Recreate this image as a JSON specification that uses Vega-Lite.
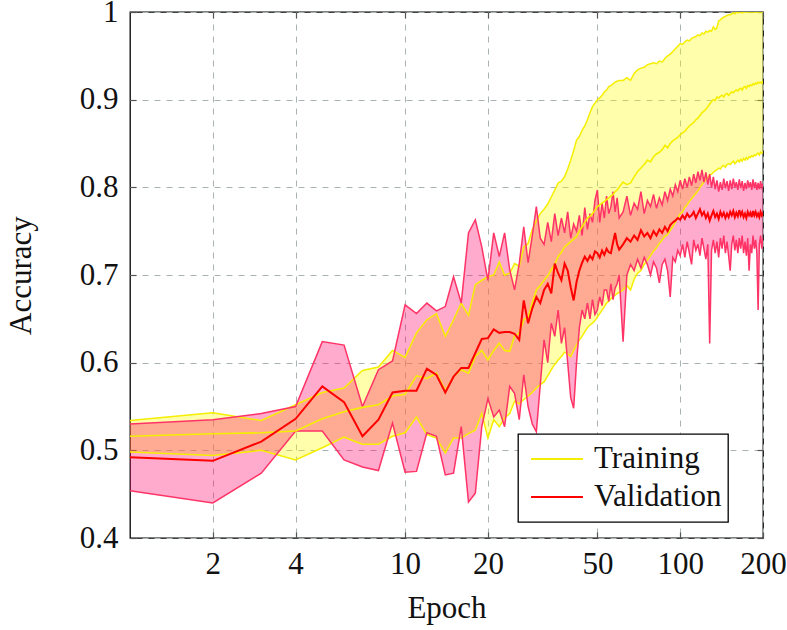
{
  "$schema": "https://vega.github.io/schema/vega-lite/v6.json",
  "width": 633,
  "height": 526,
  "autosize": {"type": "none"},
  "padding": {"left": 130, "top": 12, "right": 24, "bottom": 92},
  "background": "#ffffff",
  "data": {
    "values": [
      {"e":1,"tu":0.534,"tm":0.516,"tl":0.498,"vu":0.530,"vm":0.492,"vl":0.454},
      {"e":2,"tu":0.543,"tm":0.519,"tl":0.494,"vu":0.535,"vm":0.488,"vl":0.440},
      {"e":3,"tu":0.534,"tm":0.520,"tl":0.500,"vu":0.542,"vm":0.510,"vl":0.474},
      {"e":4,"tu":0.552,"tm":0.522,"tl":0.489,"vu":0.550,"vm":0.536,"vl":0.522},
      {"e":5,"tu":0.566,"tm":0.536,"tl":0.503,"vu":0.624,"vm":0.573,"vl":0.522},
      {"e":6,"tu":0.571,"tm":0.544,"tl":0.515,"vu":0.620,"vm":0.555,"vl":0.489},
      {"e":7,"tu":0.591,"tm":0.549,"tl":0.507,"vu":0.550,"vm":0.516,"vl":0.481},
      {"e":8,"tu":0.595,"tm":0.552,"tl":0.507,"vu":0.592,"vm":0.535,"vl":0.477},
      {"e":9,"tu":0.614,"tm":0.562,"tl":0.516,"vu":0.602,"vm":0.566,"vl":0.531},
      {"e":10,"tu":0.606,"tm":0.564,"tl":0.520,"vu":0.666,"vm":0.568,"vl":0.475},
      {"e":11,"tu":0.634,"tm":0.585,"tl":0.538,"vu":0.656,"vm":0.568,"vl":0.476},
      {"e":12,"tu":0.649,"tm":0.582,"tl":0.518,"vu":0.668,"vm":0.593,"vl":0.520},
      {"e":13,"tu":0.656,"tm":0.588,"tl":0.514,"vu":0.659,"vm":0.586,"vl":0.516},
      {"e":14,"tu":0.630,"tm":0.568,"tl":0.497,"vu":0.664,"vm":0.566,"vl":0.472},
      {"e":15,"tu":0.649,"tm":0.584,"tl":0.514,"vu":0.698,"vm":0.584,"vl":0.474},
      {"e":16,"tu":0.668,"tm":0.592,"tl":0.514,"vu":0.668,"vm":0.594,"vl":0.527},
      {"e":17,"tu":0.654,"tm":0.588,"tl":0.519,"vu":0.748,"vm":0.594,"vl":0.441},
      {"e":18,"tu":0.689,"tm":0.607,"tl":0.523,"vu":0.763,"vm":0.611,"vl":0.451},
      {"e":19,"tu":0.694,"tm":0.614,"tl":0.542,"vu":0.732,"vm":0.627,"vl":0.527},
      {"e":20,"tu":0.698,"tm":0.603,"tl":0.514,"vu":0.694,"vm":0.628,"vl":0.559},
      {"e":21,"tu":0.700,"tm":0.614,"tl":0.535,"vu":0.748,"vm":0.638,"vl":0.538},
      {"e":22,"tu":0.715,"tm":0.622,"tl":0.527,"vu":0.721,"vm":0.634,"vl":0.546},
      {"e":23,"tu":0.700,"tm":0.614,"tl":0.537,"vu":0.748,"vm":0.635,"vl":0.527},
      {"e":24,"tu":0.702,"tm":0.613,"tl":0.542,"vu":0.706,"vm":0.635,"vl":0.573},
      {"e":25,"tu":0.713,"tm":0.630,"tl":0.556,"vu":0.683,"vm":0.633,"vl":0.565},
      {"e":26,"tu":0.710,"tm":0.634,"tl":0.553,"vu":0.713,"vm":0.626,"vl":0.535},
      {"e":27,"tu":0.732,"tm":0.649,"tl":0.558,"vu":0.755,"vm":0.671,"vl":0.586},
      {"e":28,"tu":0.736,"tm":0.652,"tl":0.562,"vu":0.714,"vm":0.645,"vl":0.550},
      {"e":29,"tu":0.752,"tm":0.668,"tl":0.566,"vu":0.745,"vm":0.662,"vl":0.530},
      {"e":30,"tu":0.762,"tm":0.683,"tl":0.571,"vu":0.778,"vm":0.675,"vl":0.521},
      {"e":31,"tu":0.770,"tm":0.688,"tl":0.575,"vu":0.742,"vm":0.668,"vl":0.575},
      {"e":32,"tu":0.775,"tm":0.694,"tl":0.578,"vu":0.735,"vm":0.683,"vl":0.626},
      {"e":33,"tu":0.781,"tm":0.699,"tl":0.585,"vu":0.760,"vm":0.690,"vl":0.600},
      {"e":34,"tu":0.789,"tm":0.706,"tl":0.592,"vu":0.738,"vm":0.679,"vl":0.645},
      {"e":35,"tu":0.797,"tm":0.712,"tl":0.598,"vu":0.770,"vm":0.713,"vl":0.630},
      {"e":36,"tu":0.805,"tm":0.721,"tl":0.603,"vu":0.745,"vm":0.702,"vl":0.660},
      {"e":37,"tu":0.807,"tm":0.726,"tl":0.607,"vu":0.765,"vm":0.694,"vl":0.622},
      {"e":38,"tu":0.812,"tm":0.732,"tl":0.612,"vu":0.748,"vm":0.713,"vl":0.640},
      {"e":39,"tu":0.821,"tm":0.735,"tl":0.610,"vu":0.772,"vm":0.705,"vl":0.600},
      {"e":40,"tu":0.831,"tm":0.738,"tl":0.607,"vu":0.742,"vm":0.686,"vl":0.560},
      {"e":41,"tu":0.842,"tm":0.741,"tl":0.614,"vu":0.758,"vm":0.671,"vl":0.548},
      {"e":42,"tu":0.854,"tm":0.744,"tl":0.620,"vu":0.750,"vm":0.692,"vl":0.600},
      {"e":43,"tu":0.858,"tm":0.750,"tl":0.626,"vu":0.768,"vm":0.705,"vl":0.640},
      {"e":44,"tu":0.865,"tm":0.755,"tl":0.630,"vu":0.745,"vm":0.714,"vl":0.660},
      {"e":45,"tu":0.870,"tm":0.760,"tl":0.635,"vu":0.777,"vm":0.721,"vl":0.650},
      {"e":46,"tu":0.877,"tm":0.765,"tl":0.640,"vu":0.752,"vm":0.716,"vl":0.668},
      {"e":47,"tu":0.885,"tm":0.767,"tl":0.643,"vu":0.770,"vm":0.722,"vl":0.650},
      {"e":48,"tu":0.892,"tm":0.770,"tl":0.645,"vu":0.760,"vm":0.718,"vl":0.672},
      {"e":49,"tu":0.896,"tm":0.774,"tl":0.648,"vu":0.785,"vm":0.727,"vl":0.655},
      {"e":50,"tu":0.900,"tm":0.778,"tl":0.652,"vu":0.797,"vm":0.725,"vl":0.660},
      {"e":51,"tu":0.902,"tm":0.780,"tl":0.656,"vu":0.760,"vm":0.720,"vl":0.675},
      {"e":52,"tu":0.905,"tm":0.782,"tl":0.660,"vu":0.782,"vm":0.728,"vl":0.665},
      {"e":53,"tu":0.909,"tm":0.784,"tl":0.664,"vu":0.765,"vm":0.723,"vl":0.683},
      {"e":54,"tu":0.911,"tm":0.786,"tl":0.668,"vu":0.790,"vm":0.730,"vl":0.683},
      {"e":55,"tu":0.915,"tm":0.788,"tl":0.670,"vu":0.770,"vm":0.726,"vl":0.670},
      {"e":56,"tu":0.916,"tm":0.790,"tl":0.673,"vu":0.778,"vm":0.725,"vl":0.690},
      {"e":57,"tu":0.918,"tm":0.792,"tl":0.675,"vu":0.795,"vm":0.737,"vl":0.672},
      {"e":58,"tu":0.920,"tm":0.795,"tl":0.677,"vu":0.772,"vm":0.748,"vl":0.685},
      {"e":59,"tu":0.921,"tm":0.797,"tl":0.679,"vu":0.788,"vm":0.735,"vl":0.690},
      {"e":60,"tu":0.922,"tm":0.800,"tl":0.680,"vu":0.765,"vm":0.729,"vl":0.700},
      {"e":62,"tu":0.922,"tm":0.806,"tl":0.683,"vu":0.772,"vm":0.735,"vl":0.624},
      {"e":64,"tu":0.925,"tm":0.803,"tl":0.688,"vu":0.790,"vm":0.742,"vl":0.700},
      {"e":66,"tu":0.922,"tm":0.805,"tl":0.683,"vu":0.768,"vm":0.738,"vl":0.712},
      {"e":68,"tu":0.930,"tm":0.812,"tl":0.695,"vu":0.782,"vm":0.745,"vl":0.705},
      {"e":70,"tu":0.934,"tm":0.818,"tl":0.702,"vu":0.775,"vm":0.740,"vl":0.718},
      {"e":72,"tu":0.936,"tm":0.822,"tl":0.705,"vu":0.795,"vm":0.751,"vl":0.708},
      {"e":74,"tu":0.937,"tm":0.826,"tl":0.712,"vu":0.770,"vm":0.744,"vl":0.720},
      {"e":76,"tu":0.940,"tm":0.831,"tl":0.717,"vu":0.785,"vm":0.748,"vl":0.712},
      {"e":78,"tu":0.941,"tm":0.829,"tl":0.722,"vu":0.778,"vm":0.742,"vl":0.700},
      {"e":80,"tu":0.942,"tm":0.835,"tl":0.727,"vu":0.792,"vm":0.750,"vl":0.715},
      {"e":82,"tu":0.941,"tm":0.838,"tl":0.731,"vu":0.776,"vm":0.745,"vl":0.708},
      {"e":84,"tu":0.944,"tm":0.840,"tl":0.736,"vu":0.788,"vm":0.752,"vl":0.691},
      {"e":86,"tu":0.943,"tm":0.843,"tl":0.740,"vu":0.780,"vm":0.748,"vl":0.712},
      {"e":88,"tu":0.947,"tm":0.848,"tl":0.744,"vu":0.795,"vm":0.755,"vl":0.718},
      {"e":90,"tu":0.950,"tm":0.845,"tl":0.746,"vu":0.785,"vm":0.750,"vl":0.705},
      {"e":92,"tu":0.952,"tm":0.850,"tl":0.751,"vu":0.798,"vm":0.757,"vl":0.675},
      {"e":94,"tu":0.955,"tm":0.853,"tl":0.755,"vu":0.790,"vm":0.760,"vl":0.720},
      {"e":96,"tu":0.958,"tm":0.855,"tl":0.760,"vu":0.803,"vm":0.762,"vl":0.715},
      {"e":98,"tu":0.961,"tm":0.857,"tl":0.765,"vu":0.795,"vm":0.765,"vl":0.728},
      {"e":100,"tu":0.964,"tm":0.860,"tl":0.770,"vu":0.808,"vm":0.763,"vl":0.722},
      {"e":102,"tu":0.963,"tm":0.862,"tl":0.772,"vu":0.798,"vm":0.768,"vl":0.735},
      {"e":104,"tu":0.966,"tm":0.864,"tl":0.777,"vu":0.810,"vm":0.764,"vl":0.720},
      {"e":106,"tu":0.968,"tm":0.867,"tl":0.780,"vu":0.800,"vm":0.770,"vl":0.738},
      {"e":108,"tu":0.967,"tm":0.870,"tl":0.784,"vu":0.812,"vm":0.766,"vl":0.725},
      {"e":110,"tu":0.970,"tm":0.872,"tl":0.787,"vu":0.802,"vm":0.768,"vl":0.712},
      {"e":112,"tu":0.971,"tm":0.874,"tl":0.790,"vu":0.815,"vm":0.772,"vl":0.740},
      {"e":114,"tu":0.972,"tm":0.877,"tl":0.793,"vu":0.805,"vm":0.765,"vl":0.728},
      {"e":116,"tu":0.974,"tm":0.879,"tl":0.796,"vu":0.818,"vm":0.770,"vl":0.735},
      {"e":118,"tu":0.973,"tm":0.882,"tl":0.800,"vu":0.808,"vm":0.775,"vl":0.722},
      {"e":120,"tu":0.976,"tm":0.885,"tl":0.803,"vu":0.820,"vm":0.768,"vl":0.742},
      {"e":122,"tu":0.975,"tm":0.887,"tl":0.806,"vu":0.806,"vm":0.772,"vl":0.730},
      {"e":124,"tu":0.978,"tm":0.889,"tl":0.809,"vu":0.817,"vm":0.765,"vl":0.718},
      {"e":126,"tu":0.977,"tm":0.892,"tl":0.811,"vu":0.803,"vm":0.770,"vl":0.735},
      {"e":128,"tu":0.979,"tm":0.895,"tl":0.814,"vu":0.815,"vm":0.762,"vl":0.622},
      {"e":130,"tu":0.978,"tm":0.898,"tl":0.815,"vu":0.800,"vm":0.768,"vl":0.728},
      {"e":132,"tu":0.983,"tm":0.900,"tl":0.817,"vu":0.812,"vm":0.773,"vl":0.740},
      {"e":134,"tu":0.980,"tm":0.899,"tl":0.819,"vu":0.798,"vm":0.766,"vl":0.725},
      {"e":136,"tu":0.982,"tm":0.903,"tl":0.820,"vu":0.808,"vm":0.770,"vl":0.738},
      {"e":138,"tu":0.990,"tm":0.902,"tl":0.822,"vu":0.795,"vm":0.764,"vl":0.720},
      {"e":140,"tu":0.991,"tm":0.904,"tl":0.821,"vu":0.806,"vm":0.772,"vl":0.742},
      {"e":142,"tu":0.993,"tm":0.905,"tl":0.824,"vu":0.797,"vm":0.767,"vl":0.730},
      {"e":144,"tu":0.994,"tm":0.903,"tl":0.825,"vu":0.810,"vm":0.771,"vl":0.745},
      {"e":146,"tu":0.995,"tm":0.906,"tl":0.823,"vu":0.799,"vm":0.765,"vl":0.725},
      {"e":148,"tu":0.996,"tm":0.907,"tl":0.826,"vu":0.807,"vm":0.770,"vl":0.738},
      {"e":150,"tu":0.997,"tm":0.905,"tl":0.827,"vu":0.796,"vm":0.766,"vl":0.722},
      {"e":152,"tu":0.997,"tm":0.907,"tl":0.826,"vu":0.808,"vm":0.772,"vl":0.705},
      {"e":154,"tu":0.998,"tm":0.909,"tl":0.828,"vu":0.798,"vm":0.768,"vl":0.735},
      {"e":156,"tu":0.999,"tm":0.908,"tl":0.830,"vu":0.810,"vm":0.773,"vl":0.745},
      {"e":158,"tu":0.998,"tm":0.910,"tl":0.827,"vu":0.800,"vm":0.766,"vl":0.728},
      {"e":160,"tu":1.0,"tm":0.911,"tl":0.829,"vu":0.806,"vm":0.771,"vl":0.740},
      {"e":162,"tu":0.999,"tm":0.910,"tl":0.831,"vu":0.797,"vm":0.767,"vl":0.725},
      {"e":164,"tu":1.0,"tm":0.912,"tl":0.829,"vu":0.809,"vm":0.774,"vl":0.742},
      {"e":166,"tu":1.0,"tm":0.913,"tl":0.832,"vu":0.799,"vm":0.768,"vl":0.730},
      {"e":168,"tu":0.999,"tm":0.911,"tl":0.830,"vu":0.807,"vm":0.772,"vl":0.745},
      {"e":170,"tu":1.0,"tm":0.914,"tl":0.833,"vu":0.796,"vm":0.766,"vl":0.725},
      {"e":172,"tu":1.0,"tm":0.915,"tl":0.831,"vu":0.805,"vm":0.770,"vl":0.738},
      {"e":174,"tu":1.0,"tm":0.913,"tl":0.834,"vu":0.798,"vm":0.765,"vl":0.722},
      {"e":176,"tu":1.0,"tm":0.916,"tl":0.832,"vu":0.808,"vm":0.772,"vl":0.742},
      {"e":178,"tu":1.0,"tm":0.915,"tl":0.835,"vu":0.800,"vm":0.768,"vl":0.705},
      {"e":180,"tu":1.0,"tm":0.917,"tl":0.834,"vu":0.806,"vm":0.771,"vl":0.735},
      {"e":182,"tu":1.0,"tm":0.916,"tl":0.836,"vu":0.797,"vm":0.766,"vl":0.725},
      {"e":184,"tu":1.0,"tm":0.918,"tl":0.835,"vu":0.809,"vm":0.773,"vl":0.745},
      {"e":186,"tu":1.0,"tm":0.917,"tl":0.837,"vu":0.799,"vm":0.768,"vl":0.730},
      {"e":188,"tu":1.0,"tm":0.919,"tl":0.836,"vu":0.806,"vm":0.772,"vl":0.740},
      {"e":190,"tu":1.0,"tm":0.918,"tl":0.838,"vu":0.797,"vm":0.767,"vl":0.725},
      {"e":192,"tu":1.0,"tm":0.920,"tl":0.839,"vu":0.805,"vm":0.770,"vl":0.660},
      {"e":194,"tu":1.0,"tm":0.919,"tl":0.837,"vu":0.798,"vm":0.766,"vl":0.735},
      {"e":196,"tu":1.0,"tm":0.920,"tl":0.840,"vu":0.807,"vm":0.772,"vl":0.745},
      {"e":198,"tu":1.0,"tm":0.919,"tl":0.839,"vu":0.800,"vm":0.768,"vl":0.730},
      {"e":200,"tu":1.0,"tm":0.921,"tl":0.841,"vu":0.804,"vm":0.771,"vl":0.742}
    ]
  },
  "encoding": {
    "x": {"field": "e", "type": "quantitative", "scale": {"type": "log", "domain": [1, 200], "nice": false}}
  },
  "layer": [
    {
      "mark": {"type": "area", "color": "#ffff00", "fillOpacity": 0.33, "clip": true},
      "encoding": {
        "x": {"field": "e", "type": "quantitative", "axis": {"orient": "bottom", "values": [2, 4, 10, 20, 50, 100, 200], "format": "d", "grid": true, "labelFlush": false, "labelOverlap": false, "labelPadding": 17, "title": "Epoch", "titlePadding": 14}},
        "y": {"field": "tl", "type": "quantitative", "scale": {"domain": [0.4, 1], "nice": false, "zero": false}, "axis": {"orient": "left", "values": [0.4, 0.5, 0.6, 0.7, 0.8, 0.9, 1], "labelExpr": "datum.value == 1 ? '1' : format(datum.value, '.1f')", "grid": true, "labelFlush": false, "labelOverlap": false, "labelPadding": 18, "title": "Accuracy", "titlePadding": 42}},
        "y2": {"field": "tu"}
      }
    },
    {
      "mark": {"type": "area", "color": "#ff0066", "fillOpacity": 0.33, "clip": true},
      "encoding": {
        "x": {"field": "e", "type": "quantitative", "axis": null},
        "y": {"field": "vl", "type": "quantitative", "axis": null},
        "y2": {"field": "vu"}
      }
    },
    {
      "mark": {"type": "line", "color": "#f6ee00", "strokeWidth": 1.5, "clip": true},
      "encoding": {
        "x": {"field": "e", "type": "quantitative", "axis": {"orient": "top", "values": [2, 4, 10, 20, 50, 100, 200], "labels": false, "grid": false, "title": null}},
        "y": {"field": "tu", "type": "quantitative", "axis": {"orient": "right", "values": [0.4, 0.5, 0.6, 0.7, 0.8, 0.9, 1], "labels": false, "grid": false, "title": null}}
      }
    },
    {
      "mark": {"type": "line", "color": "#f6ee00", "strokeWidth": 1.5, "clip": true},
      "encoding": {
        "x": {"field": "e", "type": "quantitative", "axis": null},
        "y": {"field": "tl", "type": "quantitative", "axis": null}
      }
    },
    {
      "mark": {"type": "line", "color": "#ff3366", "strokeWidth": 1.5, "clip": true},
      "encoding": {
        "x": {"field": "e", "type": "quantitative", "axis": null},
        "y": {"field": "vu", "type": "quantitative", "axis": null}
      }
    },
    {
      "mark": {"type": "line", "color": "#ff3366", "strokeWidth": 1.5, "clip": true},
      "encoding": {
        "x": {"field": "e", "type": "quantitative", "axis": null},
        "y": {"field": "vl", "type": "quantitative", "axis": null}
      }
    },
    {
      "mark": {"type": "line", "strokeWidth": 1.6, "clip": true},
      "encoding": {
        "x": {"field": "e", "type": "quantitative", "axis": null},
        "y": {"field": "tm", "type": "quantitative", "axis": null},
        "color": {
          "datum": "Training",
          "type": "nominal",
          "scale": {"domain": ["Training", "Validation"], "range": ["#f6ee00", "#ff0000"]},
          "legend": {
            "orient": "none", "legendX": 388, "legendY": 422, "title": null,
            "symbolType": "stroke", "symbolSize": 2700, "symbolStrokeWidth": 2,
            "labelFont": "Liberation Serif", "labelFontSize": 31, "labelColor": "#111111",
            "padding": 6, "strokeColor": "#000000", "fillColor": "#ffffff",
            "clipHeight": 38, "labelOffset": 10, "rowPadding": 0, "symbolOffset": 6
          }
        }
      }
    },
    {
      "mark": {"type": "line", "strokeWidth": 2, "clip": true},
      "encoding": {
        "x": {"field": "e", "type": "quantitative", "axis": null},
        "y": {"field": "vm", "type": "quantitative", "axis": null},
        "color": {"datum": "Validation", "type": "nominal"}
      }
    }
  ],
  "resolve": {"axis": {"x": "independent", "y": "independent"}},
  "config": {
    "font": "Liberation Serif",
    "view": {"stroke": "#000000", "strokeWidth": 1.3},
    "axis": {
      "labelFont": "Liberation Serif", "labelFontSize": 31, "labelColor": "#111111",
      "titleFont": "Liberation Serif", "titleFontSize": 31, "titleFontWeight": "normal", "titleColor": "#111111",
      "tickColor": "#555555", "tickSize": -6, "tickWidth": 1.2, "domain": false,
      "gridColor": "#a9b3b3", "gridDash": [6, 6], "gridWidth": 1
    },
    "legend": {"strokeWidth": 1.3}
  }
}
